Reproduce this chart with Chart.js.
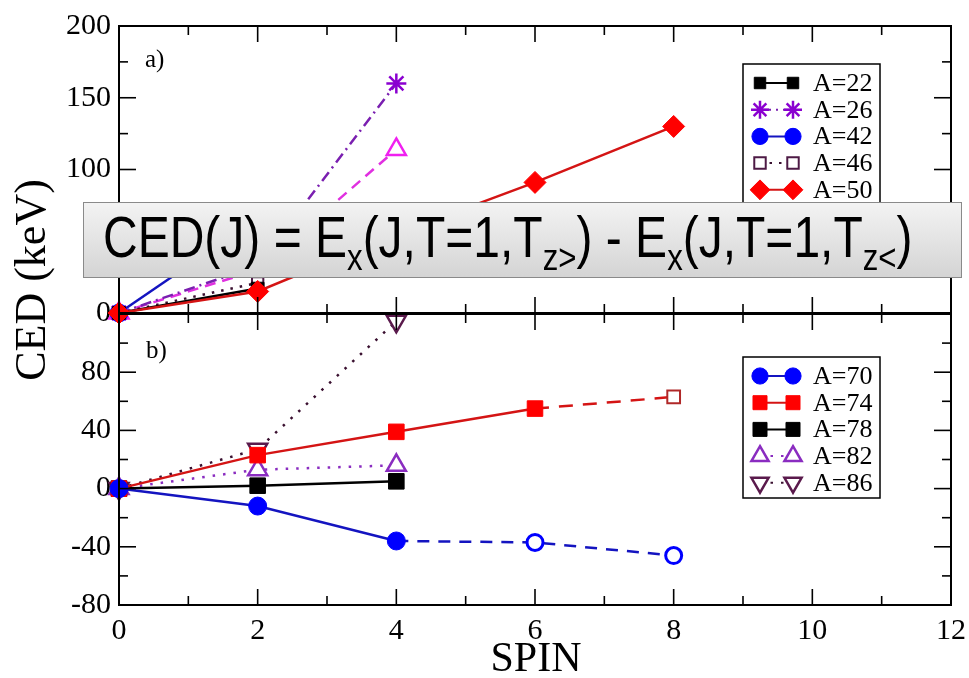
<!DOCTYPE html>
<html>
<head>
<meta charset="utf-8">
<script src="https://cdn.jsdelivr.net/npm/chart.js@4"></script>
<style>
  html, body { margin: 0; padding: 0; background: #fff; }
  #wrap { position: relative; width: 969px; height: 678px; overflow: hidden; }
  #wrap canvas { position: absolute; left: 0; top: 0; }
  #formula {
    position: absolute; left: 83px; top: 202px; width: 877px; height: 74px;
    border: 1.5px solid #8a8a8a;
    background: linear-gradient(#f3f3f3, #d4d4d4);
  }
  #formula .txt {
    position: absolute; left: 19px; top: 7px;
    font: 48px Arial, "Liberation Sans", sans-serif; line-height: 48px;
    white-space: nowrap; color: #000;
    transform: scaleY(1.18); transform-origin: 0 0;
  }
  #formula sub { font-size: 0.65em; vertical-align: baseline; position: relative; top: 11px; }
</style>
</head>
<body>
<div id="wrap">
  <canvas id="panelA" width="969" height="678"></canvas>
  <canvas id="panelB" width="969" height="678"></canvas>
  <div id="formula"><div class="txt">CED(J) = E<sub>x</sub>(J,T=1,T<sub>z&gt;</sub>) - E<sub>x</sub>(J,T=1,T<sub>z&lt;</sub>)</div></div>
</div>
<script>
// Dados (CED em keV contra o spin J)
const spinTicks = [0, 2, 4, 6, 8, 10, 12];
const yTicksA = [0, 100, 150, 200];   // o 50 fica tapado pela caixa
const yTicksB = [-80, -40, 0, 40, 80];

// painel a)
const spin22 = [0, 2];          const ced22 = [0, 17];
const spin26 = [0, 2, 4];       const ced26 = [0, 33, 160];
const spin42 = [0, 2];          const ced42 = [0, 66];
const spin46 = [0, 2];          const ced46 = [0, 21];
const spin50 = [0, 2, 4, 6, 8]; const ced50 = [0, 15, 55, 91, 130];
const spinMag = [0, 2, 4];      const cedMag = [0, 30, 114];

// painel b)
const spin70 = [0, 2, 4];       const ced70 = [0, -12, -36];
const spin70t = [4, 6, 8];      const ced70t = [-36, -37, -46];
const spin74 = [0, 2, 4, 6];    const ced74 = [0, 23, 39, 55];
const spin74t = [6, 8];         const ced74t = [55, 63];
const spin78 = [0, 2, 4];       const ced78 = [0, 2, 5];
const spin82 = [0, 2, 4];       const ced82 = [0, 13, 16];
const spin86 = [0, 2, 4];       const ced86 = [0, 27, 115];

const SERIF = '"Liberation Serif", serif';
Chart.defaults.font.family = SERIF;
Chart.defaults.color = '#000';

function pts(xs, ys) {
  return xs.map((x, i) => ({ x: x, y: ys[i] }));
}

// Monta um dataset no estilo xmgrace
function serie(label, xs, ys, linha, marca, extra) {
  return Object.assign({
    label: label,
    data: pts(xs, ys),
    borderColor: linha,
    borderWidth: 2.5,
    borderDash: [],
    pointStyle: 'circle',
    pointRadius: 8,
    pointBackgroundColor: marca,
    pointBorderColor: marca,
    pointBorderWidth: 1,
    tension: 0,
    fill: false,
    clip: false,
    order: 1
  }, extra || {});
}

const datasetsA = [
  serie('A=22', spin22, ced22, '#000', '#000', { pointStyle: 'rect', pointRadius: 9 }),
  serie('A=26', spin26, ced26, '#7a1fb0', '#8a00d0', { pointStyle: 'star', pointRadius: 10, pointBorderWidth: 2.5, borderDash: [11, 5, 2, 5] }),
  serie('A=42', spin42, ced42, '#1414c0', '#0000ff', { pointRadius: 9 }),
  serie('A=46', spin46, ced46, '#3a1030', '#4d1a45', { pointStyle: 'rect', pointRadius: 8, pointBackgroundColor: '#fff', pointBorderWidth: 2, borderDash: [2.5, 7] }),
  serie('A=50', spin50, ced50, '#d41414', '#ff0000', { pointStyle: 'rectRot', pointRadius: 11, order: 0 }),
  serie('', spinMag, cedMag, '#e030e0', '#f020f0', { pointStyle: 'triangle', pointRadius: 11, pointBackgroundColor: '#fff', pointBorderWidth: 2.5, borderDash: [11, 7] })
];

const datasetsB = [
  serie('A=70', spin70, ced70, '#1414c0', '#0000ff', { pointRadius: 9 }),
  serie('A=74', spin74, ced74, '#d41414', '#ff0000', { pointStyle: 'rect', pointRadius: 11 }),
  serie('A=78', spin78, ced78, '#000', '#000', { pointStyle: 'rect', pointRadius: 11 }),
  serie('A=82', spin82, ced82, '#8a2cc0', '#8a2cc0', { pointStyle: 'triangle', pointRadius: 11, pointBackgroundColor: '#fff', pointBorderWidth: 2.5, borderDash: [2.5, 8] }),
  serie('A=86', spin86, ced86, '#3a1030', '#5a1a4c', { pointStyle: 'triangle', pointRotation: 180, pointRadius: 11, pointBackgroundColor: '#fff', pointBorderWidth: 2.5, borderDash: [2.5, 8] }),
  serie('', spin70t, ced70t, '#1414c0', '#0000ff', { pointRadius: [0, 8, 8], pointBackgroundColor: '#fff', pointBorderWidth: 3, borderDash: [12, 9] }),
  serie('', spin74t, ced74t, '#d41414', '#b02828', { pointStyle: 'rect', pointRadius: [0, 9], pointBackgroundColor: '#fff', pointBorderWidth: 2, borderDash: [14, 10] })
];

// Moldura com marcas internas nos quatro lados
function desenhaMoldura(chart, yMaior, yMenor) {
  const ctx = chart.ctx;
  const a = chart.chartArea;
  const x = chart.scales.x, y = chart.scales.y;
  ctx.save();
  ctx.strokeStyle = '#000';
  ctx.setLineDash([]);
  ctx.lineWidth = 1.6;
  const seg = (x1, y1, x2, y2) => { ctx.beginPath(); ctx.moveTo(x1, y1); ctx.lineTo(x2, y2); ctx.stroke(); };
  for (let v = x.min; v <= x.max; v++) {
    const px = x.getPixelForValue(v);
    const len = v % 2 === 0 ? 16 : 9;
    seg(px, a.top, px, a.top + len);
    seg(px, a.bottom, px, a.bottom - len);
  }
  for (let v = y.min; v <= y.max; v += yMenor) {
    const py = y.getPixelForValue(v);
    const len = (v - y.min) % yMaior === 0 ? 17 : 9;
    seg(a.left, py, a.left + len, py);
    seg(a.right, py, a.right - len, py);
  }
  ctx.lineWidth = 2;
  ctx.strokeRect(a.left, a.top, a.right - a.left, a.bottom - a.top);
  ctx.restore();
}

// Legenda em caixa, estilo xmgrace
function desenhaLegenda(chart, caixa, n) {
  const ctx = chart.ctx;
  ctx.save();
  ctx.fillStyle = '#fff';
  ctx.fillRect(caixa.x, caixa.y, caixa.w, caixa.h);
  ctx.strokeStyle = '#000';
  ctx.lineWidth = 1.5;
  ctx.strokeRect(caixa.x, caixa.y, caixa.w, caixa.h);
  for (let i = 0; i < n; i++) {
    const ds = chart.data.datasets[i];
    const yc = caixa.y + 19 + i * 26.7;
    const x1 = caixa.x + 17, x2 = caixa.x + 50;
    ctx.setLineDash(ds.borderDash);
    ctx.strokeStyle = ds.borderColor;
    ctx.lineWidth = 2;
    ctx.beginPath(); ctx.moveTo(x1, yc); ctx.lineTo(x2, yc); ctx.stroke();
    ctx.setLineDash([]);
    [x1, x2].forEach(px => {
      ctx.fillStyle = ds.pointBackgroundColor;
      ctx.strokeStyle = ds.pointBorderColor;
      ctx.lineWidth = ds.pointBorderWidth;
      Chart.helpers.drawPoint(ctx, {
        pointStyle: ds.pointStyle, radius: Math.max(ds.pointRadius, 9) * 0.9,
        rotation: ds.pointRotation || 0, borderWidth: ds.pointBorderWidth
      }, px, yc);
    });
    ctx.fillStyle = '#000';
    ctx.font = '26px ' + SERIF;
    ctx.textAlign = 'left';
    ctx.textBaseline = 'middle';
    ctx.fillText(ds.label, caixa.x + 70, yc + 1);
  }
  ctx.restore();
}

function rotulo(chart, texto, x, y) {
  const ctx = chart.ctx;
  ctx.save();
  ctx.fillStyle = '#000';
  ctx.font = '25px ' + SERIF;
  ctx.textAlign = 'left';
  ctx.textBaseline = 'middle';
  ctx.fillText(texto, x, y);
  ctx.restore();
}

const pluginA = {
  id: 'extrasA',
  afterDraw(chart) {
    desenhaMoldura(chart, 50, 25);
    desenhaLegenda(chart, { x: 743, y: 64, w: 137, h: 190 }, 5);
    rotulo(chart, 'a)', 145, 60);
  }
};

const pluginB = {
  id: 'extrasB',
  afterDraw(chart) {
    desenhaMoldura(chart, 40, 20);
    desenhaLegenda(chart, { x: 743, y: 357, w: 137, h: 141 }, 5);
    rotulo(chart, 'b)', 146, 351);
    const ctx = chart.ctx;
    ctx.save();
    ctx.fillStyle = '#000';
    ctx.textAlign = 'center';
    ctx.textBaseline = 'middle';
    ctx.font = '42px ' + SERIF;
    ctx.fillText('SPIN', 536, 660);
    ctx.translate(33, 280);
    ctx.rotate(-Math.PI / 2);
    ctx.font = '44px ' + SERIF;
    ctx.fillText('CED (keV)', 0, 0);
    ctx.restore();
  }
};

function opcoes(padding, yMin, yMax, yTicks, mostraX) {
  return {
    responsive: false,
    animation: false,
    events: [],
    layout: { padding: padding },
    plugins: { legend: { display: false }, tooltip: { enabled: false } },
    scales: {
      x: {
        type: 'linear', min: 0, max: 12, display: mostraX,
        grid: { display: false, drawTicks: false },
        border: { display: false },
        afterBuildTicks: s => { s.ticks = spinTicks.map(v => ({ value: v })); },
        afterFit: s => {
          s.height = mostraX ? 73 : 0;
          s.paddingLeft = 0;
          s.paddingRight = 0;
        },
        ticks: { font: { family: SERIF, size: 30 }, padding: 8, maxRotation: 0, autoSkip: false }
      },
      y: {
        type: 'linear', min: yMin, max: yMax,
        grid: { display: false, drawTicks: false },
        border: { display: false },
        afterBuildTicks: s => { s.ticks = yTicks.map(v => ({ value: v })); },
        afterFit: s => { s.width = 119; },
        ticks: { font: { family: SERIF, size: 30 }, padding: 8 }
      }
    }
  };
}

new Chart(document.getElementById('panelA'), {
  type: 'line',
  data: { datasets: datasetsA },
  options: opcoes({ left: 0, top: 24, right: 18, bottom: 365 }, 0, 200, yTicksA, false),
  plugins: [pluginA]
});

new Chart(document.getElementById('panelB'), {
  type: 'line',
  data: { datasets: datasetsB },
  options: opcoes({ left: 0, top: 314, right: 18, bottom: 0 }, -80, 120, yTicksB, true),
  plugins: [pluginB]
});
</script>
</body>
</html>
